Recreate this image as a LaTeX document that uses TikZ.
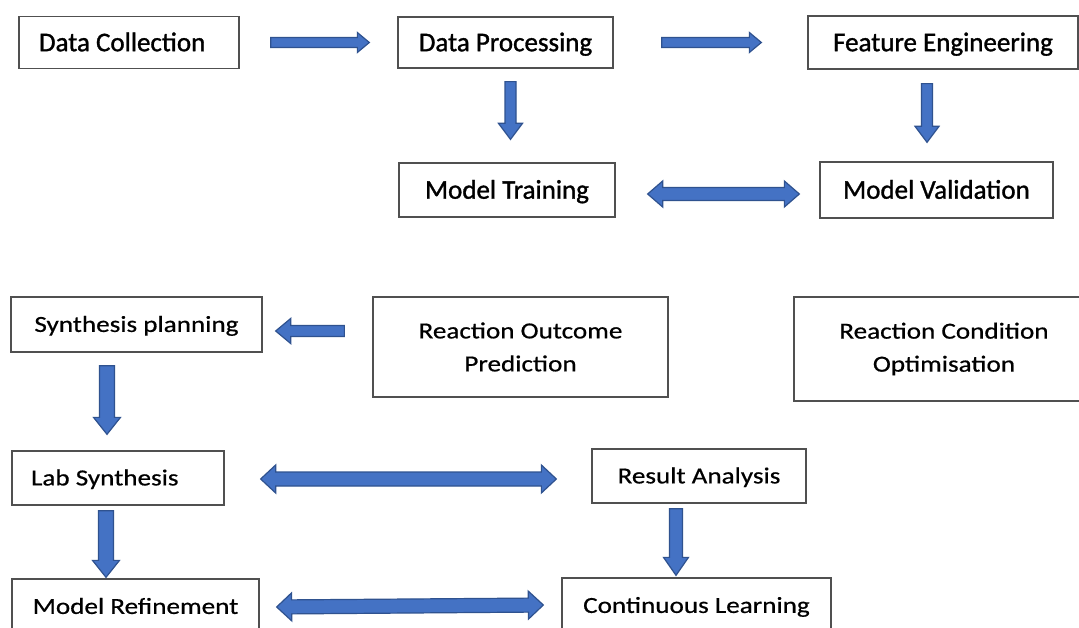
\documentclass[tikz,border=0pt]{standalone}
\usepackage{fontspec}
\setmainfont{Carlito}
\newfontfamily\hifont{Carlito}[FakeBold=1.2]
\newfontfamily\lofont{Carlito}[FakeStretch=1.18, FakeBold=0.6]
\usetikzlibrary{calc}
\definecolor{arrfill}{HTML}{4472C4}
\definecolor{arrline}{HTML}{2F528F}
\definecolor{boxline}{HTML}{505050}

\begin{document}
\begin{tikzpicture}[x=1pt, y=-1pt,
  arrshaft/.store in=\arrshaft, arrhead/.store in=\arrhead, arrlen/.store in=\arrlen,
  arrshaft=6pt, arrhead=12.5pt, arrlen=15pt,
  box/.style={draw=boxline, line width=1.3pt, fill=white, inner sep=0pt, align=center},
  hibox/.style={box, font=\hifont\fontsize{27}{32}\selectfont},
  lobox/.style={box, font=\lofont\fontsize{23}{33}\selectfont},
  oneline/.style={text height=#1, text depth=0pt},
  padl/.style={align=flush left, inner xsep=#1},
  barrow/.style={fill=arrfill, draw=arrline, line width=1.2pt, line join=miter,
    to path={let \p1=(\tikztostart), \p2=(\tikztotarget),
                 \n1={atan2(\y2-\y1,\x2-\x1)} in
      ($(\p1)+(\n1+90:\arrshaft)$)
      -- ($(\p2)+(\n1+180:\arrlen)+(\n1+90:\arrshaft)$)
      -- ($(\p2)+(\n1+180:\arrlen)+(\n1+90:\arrhead)$)
      -- (\p2)
      -- ($(\p2)+(\n1+180:\arrlen)+(\n1-90:\arrhead)$)
      -- ($(\p2)+(\n1+180:\arrlen)+(\n1-90:\arrshaft)$)
      -- ($(\p1)+(\n1-90:\arrshaft)$) -- cycle}},
  dbarrow/.style={fill=arrfill, draw=arrline, line width=1.2pt, line join=miter,
    to path={let \p1=(\tikztostart), \p2=(\tikztotarget),
                 \n1={atan2(\y2-\y1,\x2-\x1)} in
      (\p1)
      -- ($(\p1)+(\n1:\arrlen)+(\n1+90:\arrhead)$)
      -- ($(\p1)+(\n1:\arrlen)+(\n1+90:\arrshaft)$)
      -- ($(\p2)+(\n1+180:\arrlen)+(\n1+90:\arrshaft)$)
      -- ($(\p2)+(\n1+180:\arrlen)+(\n1+90:\arrhead)$)
      -- (\p2)
      -- ($(\p2)+(\n1+180:\arrlen)+(\n1-90:\arrhead)$)
      -- ($(\p2)+(\n1+180:\arrlen)+(\n1-90:\arrshaft)$)
      -- ($(\p1)+(\n1:\arrlen)+(\n1-90:\arrshaft)$)
      -- ($(\p1)+(\n1:\arrlen)+(\n1-90:\arrhead)$) -- cycle}}
]
\useasboundingbox (0,0) rectangle (1079,628);
\fill[white] (0,0) rectangle (1079,628);
\clip (0,0) rectangle (1079,628);

% ---- pipeline du modele ------------------------------------------------
\node[hibox, oneline=17.4pt, padl=20pt, text width=180pt, minimum width=220pt,
      minimum height=52pt] (dc) at (129,42.5) {Data Collection};
\node[hibox, oneline=17.4pt, minimum width=215pt, minimum height=51pt]
  (dp) at (505.5,42.5) {Data Processing};
\node[hibox, oneline=17.4pt, minimum width=270pt, minimum height=53pt]
  (fe) at (943,42.5) {Feature Engineering};
\node[hibox, oneline=17.4pt, minimum width=216pt, minimum height=54pt]
  (mt) at (507,190) {Model Training};
\node[hibox, oneline=17.4pt, minimum width=233pt, minimum height=56pt]
  (mv) at (936.5,190) {Model Validation};

\draw[barrow, arrshaft=5pt, arrhead=10pt, arrlen=12pt]
  ($(dc.east)+(31pt,0)$) to ($(dp.west)+(-28pt,0)$);
\draw[barrow, arrshaft=5pt, arrhead=10pt, arrlen=12pt]
  ($(dp.east)+(48pt,0)$) to ($(fe.west)+(-46pt,0)$);
\draw[barrow, arrshaft=5.5pt, arrhead=12pt, arrlen=16pt]
  ($(dp.south)+(5pt,-13pt)$) to ($(mt.north)+(3.5pt,23pt)$);
\draw[barrow, arrshaft=5.5pt, arrhead=12pt, arrlen=16pt]
  ($(fe.south)+(-16pt,-14pt)$) to ($(mv.north)+(-9.5pt,19pt)$);
\draw[dbarrow, arrshaft=6.5pt, arrhead=13pt, arrlen=15pt]
  ($(mt.east)+(32pt,-4pt)$) to ($(mv.west)+(-20pt,-4pt)$);

% ---- boucle de synthese ------------------------------------------------
\node[lobox, oneline=14.8pt, minimum width=251pt, minimum height=55pt]
  (sp) at (136.5,324.5) {Synthesis planning};
\node[lobox, minimum width=295pt, minimum height=100pt]
  (rop) at (520.5,347) {Reaction Outcome\\Prediction};
\node[lobox, minimum width=300pt, minimum height=104pt]
  (rco) at (944,349) {Reaction Condition\\Optimisation};
\node[lobox, oneline=14.8pt, padl=19pt, text width=174pt, minimum width=212pt,
      minimum height=54pt] (ls) at (118,478) {Lab Synthesis};
\node[lobox, oneline=14.8pt, minimum width=214pt, minimum height=54pt]
  (ra) at (699,476) {Result Analysis};
\node[lobox, oneline=14.8pt, minimum width=247pt, minimum height=55pt]
  (mr) at (135.5,606.5) {Model Refinement};
\node[lobox, oneline=14.8pt, minimum width=269pt, minimum height=55pt]
  (cl) at (696.5,605.5) {Continuous Learning};

\draw[barrow, arrshaft=5.5pt, arrhead=12.5pt, arrlen=15pt]
  ($(rop.west)+(-28pt,16pt)$) to ($(sp.east)+(13pt,-6.5pt)$);
\draw[barrow, arrshaft=7.5pt, arrhead=13.5pt, arrlen=17pt]
  ($(sp.south)+(-29.5pt,-13pt)$) to ($(ls.north)+(-11pt,16pt)$);
\draw[dbarrow, arrshaft=7pt, arrhead=14pt, arrlen=15pt]
  ($(ls.east)+(36pt,-1pt)$) to ($(ra.west)+(-35pt,-3pt)$);
\draw[barrow, arrshaft=7.5pt, arrhead=13.5pt, arrlen=17pt]
  ($(ls.south)+(-12pt,-5pt)$) to ($(mr.north)+(-29.5pt,1pt)$);
\draw[barrow, arrshaft=6.5pt, arrhead=12.5pt, arrlen=18pt]
  ($(ra.south)+(-23pt,-5pt)$) to ($(cl.north)+(-20.5pt,2pt)$);
\draw[dbarrow, arrshaft=7pt, arrhead=14pt, arrlen=15pt]
  ($(mr.east)+(17pt,-0.5pt)$) to ($(cl.west)+(-18pt,0.5pt)$);
\end{tikzpicture}
\end{document}
